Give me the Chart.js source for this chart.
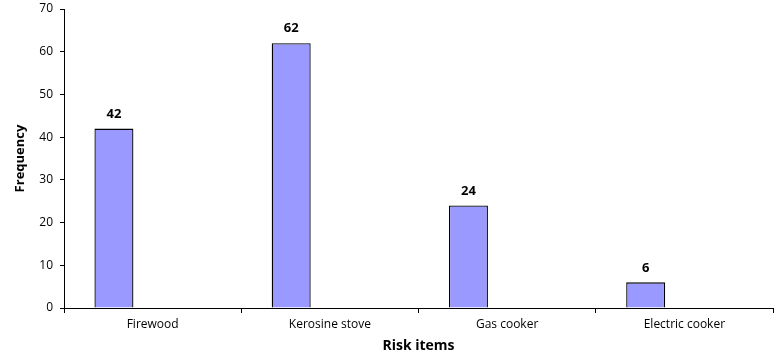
<!DOCTYPE html>
<html>
<head>
<meta charset="utf-8">
<script src="https://cdn.jsdelivr.net/npm/chart.js@4/dist/chart.umd.min.js"></script>
<style>
  html, body { margin: 0; padding: 0; background: #fff; }
  #wrap { width: 782px; height: 360px; }
</style>
</head>
<body>
<div id="wrap"><canvas id="risk-chart"></canvas></div>
<script>
const categories = ["Firewood", "Kerosine stove", "Gas cooker", "Electric cooker"];
const frequencies = [42, 62, 24, 6];
const emptySeries = [null, null, null, null];
const yTicks = [0, 10, 20, 30, 40, 50, 60, 70];

const fontFamily = "'Open Sans', 'DejaVu Sans', sans-serif";

// draw the value above each bar of the first series
const valueLabels = {
    id: "valueLabels",
    afterDatasetsDraw(chart) {
        const ctx = chart.ctx;
        const meta = chart.getDatasetMeta(0);
        ctx.save();
        ctx.font = "bold 13px " + fontFamily;
        ctx.fillStyle = "#000";
        ctx.textAlign = "center";
        ctx.textBaseline = "bottom";
        meta.data.forEach((bar, i) => {
            ctx.fillText(String(frequencies[i]), bar.x, bar.y - 8);
        });
        ctx.restore();
    },
};

new Chart(document.getElementById("risk-chart"), {
    type: "bar",
    data: {
        labels: categories,
        datasets: [
            {
                label: "Frequency",
                data: frequencies,
                backgroundColor: "#9999ff",
                borderColor: "#000",
                borderWidth: 1.3,
                borderSkipped: "bottom",
                categoryPercentage: 0.873,
                barPercentage: 0.504,
            },
            {
                label: "",
                data: emptySeries,
                backgroundColor: "#993366",
                categoryPercentage: 0.873,
                barPercentage: 0.504,
            },
        ],
    },
    options: {
        responsive: true,
        maintainAspectRatio: false,
        animation: false,
        layout: { padding: { left: 0, right: 9, top: 9, bottom: 0 } },
        plugins: {
            legend: { display: false },
            tooltip: { enabled: false },
        },
        scales: {
            x: {
                grid: {
                    drawOnChartArea: false,
                    drawTicks: true,
                    tickLength: 5,
                    color: "#000",
                },
                border: { display: true, color: "#000", width: 1 },
                ticks: {
                    color: "#000",
                    font: { family: fontFamily, size: 12 },
                    padding: 4,
                    maxRotation: 0,
                },
                title: {
                    display: true,
                    text: "Risk items",
                    color: "#000",
                    font: { family: fontFamily, size: 14, weight: "bold" },
                    padding: { top: 2, bottom: 6 },
                },
                afterFit(scale) {
                    scale.height = 52;
                    scale.paddingLeft = 0;
                    scale.paddingRight = 0;
                },
            },
            y: {
                min: 0,
                max: 70,
                afterBuildTicks(scale) {
                    scale.ticks = yTicks.map((v) => ({ value: v }));
                },
                grid: {
                    drawOnChartArea: false,
                    drawTicks: true,
                    tickLength: 4,
                    color: "#000",
                },
                border: { display: true, color: "#000", width: 1 },
                ticks: {
                    color: "#000",
                    font: { family: fontFamily, size: 12 },
                    padding: 7,
                },
                title: {
                    display: true,
                    text: "Frequency",
                    color: "#000",
                    font: { family: fontFamily, size: 13, weight: "bold" },
                    padding: { top: 12, bottom: 4 },
                },
                afterFit(scale) {
                    scale.width = 64;
                    scale.paddingTop = 0;
                    scale.paddingBottom = 0;
                },
            },
        },
    },
    plugins: [valueLabels],
});
</script>
</body>
</html>
